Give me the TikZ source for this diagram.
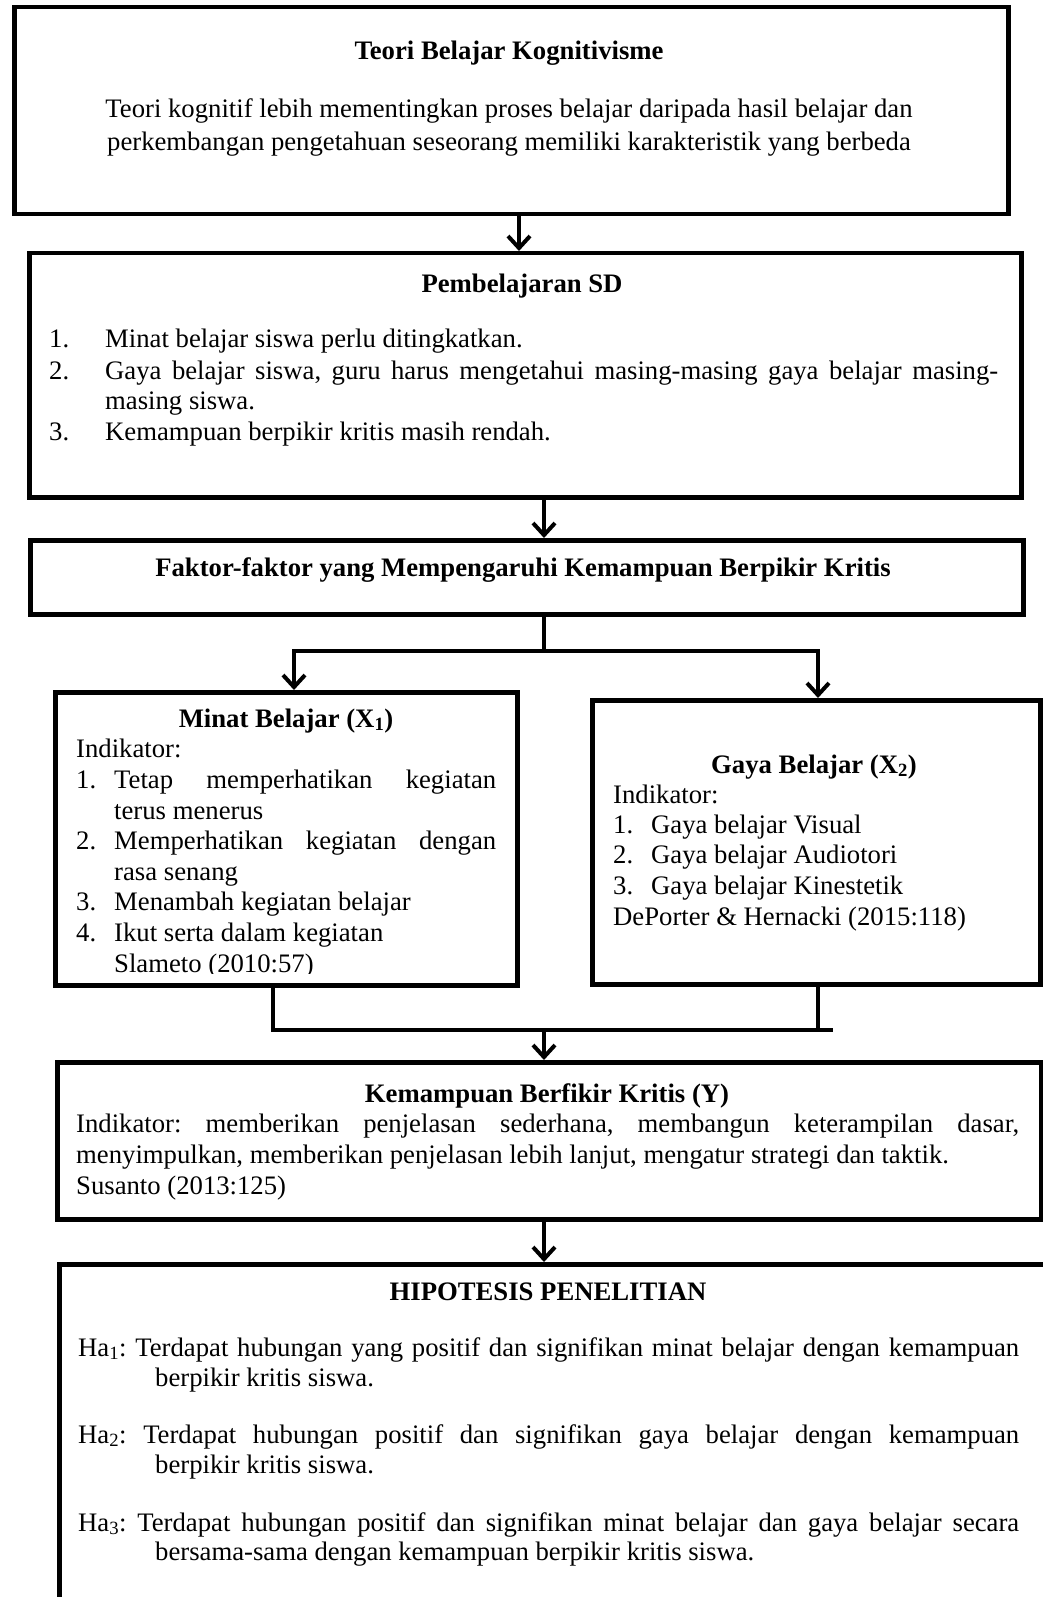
\documentclass[tikz,border=0pt]{standalone}
\usepackage{fontspec}
\setmainfont{Liberation Serif}
\usetikzlibrary{arrows.meta}
\newcommand{\fsz}{\fontsize{26.7}{30.7}\selectfont\frenchspacing}
\begin{document}
\begin{tikzpicture}[x=1pt,y=-1pt,
  box/.style={draw, line width=4.5pt, inner sep=0pt, anchor=north west},
  arr/.style={line width=4pt, -{Straight Barb[length=12pt,width=22pt]}},
  conn/.style={line width=4pt},
  txt/.style={inner sep=0pt, font=\fsz, anchor=base west},
  mtxt/.style={inner sep=0pt, font=\fsz, anchor=base},
  ctxt/.style={inner sep=0pt, font=\fsz\bfseries, anchor=base},
]
\useasboundingbox (0,0) rectangle (1043,1597);
\fill[white] (0,0) rectangle (1043,1597);

% boxes
\node[box, minimum width=994pt, minimum height=207pt] (b1) at (12,5) {};
\node[box, minimum width=992pt, minimum height=244pt] (b2) at (27,251) {};
\node[box, minimum width=993pt, minimum height=74pt] (b3) at (28,538) {};
\node[box, minimum width=462pt, minimum height=293pt] (b4) at (53,690) {};
\node[box, minimum width=448pt, minimum height=284pt] (b5) at (590,698) {};
\node[box, minimum width=984pt, minimum height=157pt] (b6) at (55,1060) {};
\node[box, minimum width=1003pt, minimum height=358pt] (b7) at (57,1262) {};

% connector guides
\coordinate (xa) at (519,0);
\coordinate (xm) at (544,0);
\coordinate (xl) at (294,0);
\coordinate (xr) at (818,0);
\coordinate (xl2) at (273,0);
\coordinate (xr2) at (833,0);
\coordinate (split) at (544,651);
\coordinate (merge) at (544,1030);

\draw[arr] (xa |- b1.south) -- (xa |- b2.north);
\draw[arr] (xm |- b2.south) -- (xm |- b3.north);
\draw[conn] (xm |- b3.south) -- (split);
\draw[arr] (split) -| (xl |- b4.north);
\draw[arr] (split) -| (xr |- b5.north);
\draw[conn] (xl2 |- b4.south) -- (xl2 |- merge) -- (xr2 |- merge);
\draw[conn] (xr |- b5.south) -- (xr |- merge);
\draw[arr] (merge) -- (xm |- b6.north);
\draw[arr] (xm |- b6.south) -- (xm |- b7.north);

% box 1
\node[ctxt] (t1) at (509,60) {Teori Belajar Kognitivisme};
\node[mtxt] (t1a) at (509,118) {Teori kognitif lebih mementingkan proses belajar daripada hasil belajar dan};
\node[mtxt] (t1b) at (509,151) {perkembangan pengetahuan seseorang memiliki karakteristik yang berbeda};

% box 2
\node[ctxt] (t2) at (522,292) {Pembelajaran SD};
\node[txt] (n21) at (49,347) {1.};
\node[txt] (t21) at (105,347) {Minat belajar siswa perlu ditingkatkan.};
\node[txt] (n22) at (49,379) {2.};
\node[txt] (t22) at (105,379) {\makebox[893pt][s]{Gaya belajar siswa, guru harus mengetahui masing-masing gaya belajar masing-}};
\node[txt] (t22b) at (105,409) {masing siswa.};
\node[txt] (n23) at (49,440) {3.};
\node[txt] (t23) at (105,440) {Kemampuan berpikir kritis masih rendah.};

% box 3
\node[ctxt] (t3) at (523,576) {Faktor-faktor yang Mempengaruhi Kemampuan Berpikir Kritis};

% box 4
\begin{scope}
\clip (53,690) rectangle (515,973);
\node[ctxt] (t4) at (286,727) {Minat Belajar (X\textsubscript{1})};
\node[txt] (t4i) at (76,757) {Indikator:};
\node[txt] (n41) at (76,788) {1.};
\node[txt] (t41) at (114,788) {\makebox[382pt][s]{Tetap memperhatikan kegiatan}};
\node[txt] (t41b) at (114,819) {terus menerus};
\node[txt] (n42) at (76,849) {2.};
\node[txt] (t42) at (114,849) {\makebox[382pt][s]{Memperhatikan kegiatan dengan}};
\node[txt] (t42b) at (114,880) {rasa senang};
\node[txt] (n43) at (76,910) {3.};
\node[txt] (t43) at (114,910) {Menambah kegiatan belajar};
\node[txt] (n44) at (76,941) {4.};
\node[txt] (t44) at (114,941) {Ikut serta dalam kegiatan};
\node[txt] (t4s) at (114,972) {Slameto (2010:57)};
\end{scope}

% box 5
\node[ctxt] (t5) at (814,773) {Gaya Belajar (X\textsubscript{2})};
\node[txt] (t5i) at (613,803) {Indikator:};
\node[txt] (n51) at (613,833) {1.};
\node[txt] (t51) at (651,833) {Gaya belajar Visual};
\node[txt] (n52) at (613,863) {2.};
\node[txt] (t52) at (651,863) {Gaya belajar Audiotori};
\node[txt] (n53) at (613,894) {3.};
\node[txt] (t53) at (651,894) {Gaya belajar Kinestetik};
\node[txt] (t5s) at (613,925) {DePorter \& Hernacki (2015:118)};

% box 6
\node[ctxt] (t6) at (547,1102) {Kemampuan Berfikir Kritis (Y)};
\node[txt] (t61) at (76,1132) {\makebox[943pt][s]{Indikator: memberikan penjelasan sederhana, membangun keterampilan dasar,}};
\node[txt] (t62) at (76,1163) {menyimpulkan, memberikan penjelasan lebih lanjut, mengatur strategi dan taktik.};
\node[txt] (t63) at (76,1194) {Susanto (2013:125)};

% box 7
\node[ctxt] (t7) at (548,1300) {HIPOTESIS PENELITIAN};
\node[txt] (h1) at (78,1356) {\makebox[941pt][s]{Ha\textsubscript{1}: Terdapat hubungan yang positif dan signifikan minat belajar dengan kemampuan}};
\node[txt] (h1b) at (155,1386) {berpikir kritis siswa.};
\node[txt] (h2) at (78,1443) {\makebox[941pt][s]{Ha\textsubscript{2}: Terdapat hubungan positif dan signifikan gaya belajar dengan kemampuan}};
\node[txt] (h2b) at (155,1473) {berpikir kritis siswa.};
\node[txt] (h3) at (78,1531) {\makebox[941pt][s]{Ha\textsubscript{3}: Terdapat hubungan positif dan signifikan minat belajar dan gaya belajar secara}};
\node[txt] (h3b) at (155,1560) {bersama-sama dengan kemampuan berpikir kritis siswa.};
\end{tikzpicture}
\end{document}
